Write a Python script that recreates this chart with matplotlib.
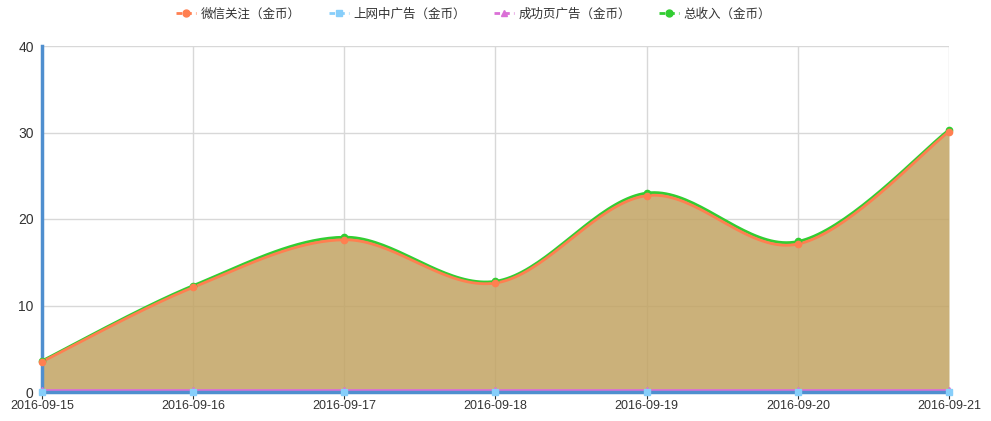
import numpy as np
import matplotlib.pyplot as plt
from matplotlib.lines import Line2D

plt.rcParams['font.family'] = ['Noto Sans CJK SC', 'DejaVu Sans']

dates = ['2016-09-15', '2016-09-16', '2016-09-17', '2016-09-18', '2016-09-19', '2016-09-20', '2016-09-21']
weixin = [3.5, 12.1, 17.6, 12.6, 22.7, 17.1, 30.1]
shangwang = [0.0, 0.0, 0.0, 0.0, 0.0, 0.0, 0.0]
chenggong = [0.2, 0.2, 0.2, 0.2, 0.2, 0.2, 0.2]
total = [3.6, 12.3, 17.9, 12.8, 23.0, 17.4, 30.3]

names = ['微信关注（金币）', '上网中广告（金币）', '成功页广告（金币）', '总收入（金币）']
colors = ['#ff7f50', '#87cefa', '#da70d6', '#32cd32']
markers = ['o', 's', '^', 'o']


def smooth(x, y, n=40):
    # catmull-rom style smoothing through the data points
    x = np.asarray(x, float); y = np.asarray(y, float)
    px = np.concatenate([[x[0]], x, [x[-1]]])
    py = np.concatenate([[y[0]], y, [y[-1]]])
    xs, ys = [], []
    t = np.linspace(0, 1, n)
    for i in range(1, len(px) - 2):
        p0, p1, p2, p3 = px[i-1], px[i], px[i+1], px[i+2]
        q0, q1, q2, q3 = py[i-1], py[i], py[i+1], py[i+2]
        c1x, c1y = p1 + (p2 - p0) / 6, q1 + (q2 - q0) / 6
        c2x, c2y = p2 - (p3 - p1) / 6, q2 - (q3 - q1) / 6
        bx = (1-t)**3*p1 + 3*(1-t)**2*t*c1x + 3*(1-t)*t**2*c2x + t**3*p2
        by = (1-t)**3*q1 + 3*(1-t)**2*t*c1y + 3*(1-t)*t**2*c2y + t**3*q2
        xs.append(bx); ys.append(by)
    return np.concatenate(xs), np.concatenate(ys)


fig = plt.figure(figsize=(9.91, 4.21), dpi=100)
ax = fig.add_axes([42/991, 29/421, 907/991, 346/421])

x = np.arange(len(dates))
series = [weixin, shangwang, chenggong, total]

sx, sy = smooth(x, total)
ax.fill_between(sx, 0, sy, color='#c2a463', alpha=0.85, lw=0, zorder=2)

# draw order: total at the back, then success-page, weixin, in-net ads on top
order = [3, 2, 0, 1]
for k, i in enumerate(order):
    vals, c, m = series[i], colors[i], markers[i]
    lx, ly = smooth(x, vals)
    ax.plot(lx, ly, color=c, lw=2, zorder=3 + k * 0.1)
    ax.plot(x, vals, ls='none', marker=m, color=c, ms=4.5, mec=c, zorder=4 + k * 0.1, clip_on=False)

ax.set_xlim(0, len(dates) - 1)
ax.set_ylim(0, 40)
ax.set_yticks([0, 10, 20, 30, 40])
ax.set_xticks(x)
ax.set_xticklabels(dates)
ax.grid(True, color='#d8d8d8', lw=1, zorder=1)
ax.set_axisbelow(True)

for s in ['top', 'right']:
    ax.spines[s].set_visible(False)
for s in ['left', 'bottom']:
    ax.spines[s].set_color('#4f8fcf')
    ax.spines[s].set_linewidth(2.5)
    ax.spines[s].set_zorder(3.5)
ax.tick_params(axis='y', length=0, labelsize=10, labelcolor='#333333', pad=6)
ax.tick_params(axis='x', length=5, color='#333333', labelsize=9, labelcolor='#333333', pad=1)
for lab in ax.get_xticklabels() + ax.get_yticklabels():
    lab.set_fontfamily(['Liberation Sans', 'DejaVu Sans'])

handles = [Line2D([0], [0], color=c, lw=2, ls='--', marker=m, ms=5, dashes=(2, 1.5)) for c, m in zip(colors, markers)]
fig.legend(handles, names, loc='center', ncol=4, frameon=False, fontsize=9,
           bbox_to_anchor=(0.478, 0.967), handlelength=1.6, columnspacing=2.2, handletextpad=0.4,
           labelcolor='#333333')

fig.savefig('out.png', dpi=100)
